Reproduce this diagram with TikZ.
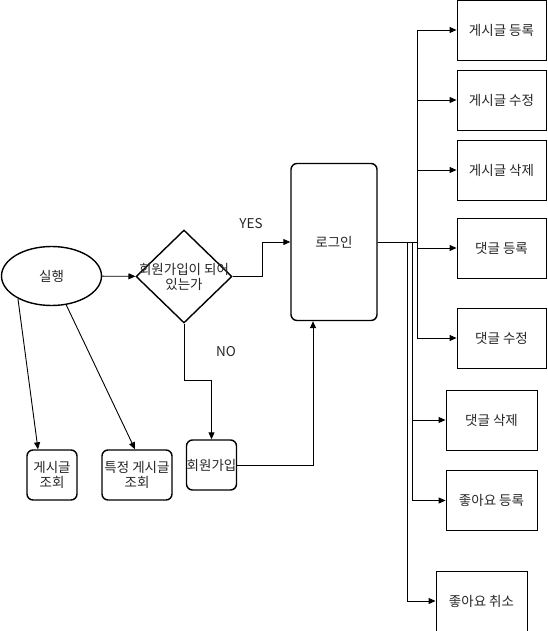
\documentclass[tikz,border=0pt]{standalone}
\usepackage{fontspec}
\setmainfont{Noto Sans CJK KR}
\usetikzlibrary{shapes.geometric,arrows.meta,calc}
\begin{document}
\begin{tikzpicture}[x=1pt,y=-1pt,
  every node/.style={font=\fontsize{13.5}{15}\selectfont, text=black!85},
  thick box/.style={draw, line width=1.4pt, rounded corners=6pt, align=center, inner sep=0pt},
  plain box/.style={draw, line width=0.9pt, inner sep=0pt, minimum width=90pt, minimum height=60pt},
  arr/.style={line width=0.9pt, -{Triangle[length=7pt,width=6pt]}},
  ln/.style={line width=0.9pt}]
\useasboundingbox (0,0) rectangle (547,631);
% left part
\node[draw, ellipse, line width=1.4pt, minimum width=100pt, minimum height=59pt, inner sep=0pt] (run) at (51.5,276) {실행};
\node[draw, diamond, line width=1.4pt, minimum width=96pt, minimum height=93pt, inner sep=0pt] (q) at (184,276.5) {};
\node[align=center, inner sep=0pt] (qt) at (q.center) {회원가입이 되어\\있는가};
\node[thick box, minimum width=86pt, minimum height=157pt] (login) at (334,242) {로그인};
\node[thick box, minimum width=50pt, minimum height=50pt] (join) at (211.5,465) {회원가입};
\node[thick box, minimum width=50pt, minimum height=50pt] (v1) at (52,475) {게시글\\조회};
\node[thick box, minimum width=70pt, minimum height=50pt] (v2) at (137,475) {특정 게시글\\조회};
\node (yes) at (251,224) {YES};
\node (no) at (226,352) {NO};
% right boxes
\node[plain box, minimum width=89pt] (r1) at (501.5,30) {게시글 등록};
\node[plain box, minimum width=89pt] (r2) at (501.5,100) {게시글 수정};
\node[plain box, minimum width=89pt] (r3) at (501.5,170) {게시글 삭제};
\node[plain box, minimum width=89pt] (r4) at (501.5,248) {댓글 등록};
\node[plain box, minimum width=89pt] (r5) at (501.5,338) {댓글 수정};
\node[plain box, minimum width=91pt] (r6) at (491.5,420) {댓글 삭제};
\node[plain box, minimum width=91pt] (r7) at (491.5,500.5) {좋아요 등록};
\node[plain box, minimum width=91pt] (r8) at (481.5,601) {좋아요 취소};
% connectors
\draw[arr] (run) -- (q);
\draw[arr] (q.east) -- ++(30,0) |- (login.west);
\draw[arr] (q.south) -- ++(0,57) -| (join.north);
\draw[arr] (join.east) -| ([xshift=-21pt]login.south);
\draw[arr] (run.214) -- ([xshift=-14pt]v1.north);
\draw[arr] (run.297) -- ([xshift=-2pt]v2.north);
\draw[arr] (login.east) -- ++(39.5,0) |- (r1.west);
\draw[arr] (login.east) -- ++(39.5,0) |- (r2.west);
\draw[arr] (login.east) -- ++(39.5,0) |- (r3.west);
\draw[arr] (login.east) -- ++(39.5,0) |- (r4.west);
\draw[arr] (login.east) -- ++(39.5,0) |- (r5.west);
\draw[arr] (login.east) -- ++(34.5,0) |- (r6.west);
\draw[arr] (login.east) -- ++(34.5,0) |- (r7.west);
\draw[arr] (login.east) -- ++(29.5,0) |- (r8.west);
\end{tikzpicture}
\end{document}
